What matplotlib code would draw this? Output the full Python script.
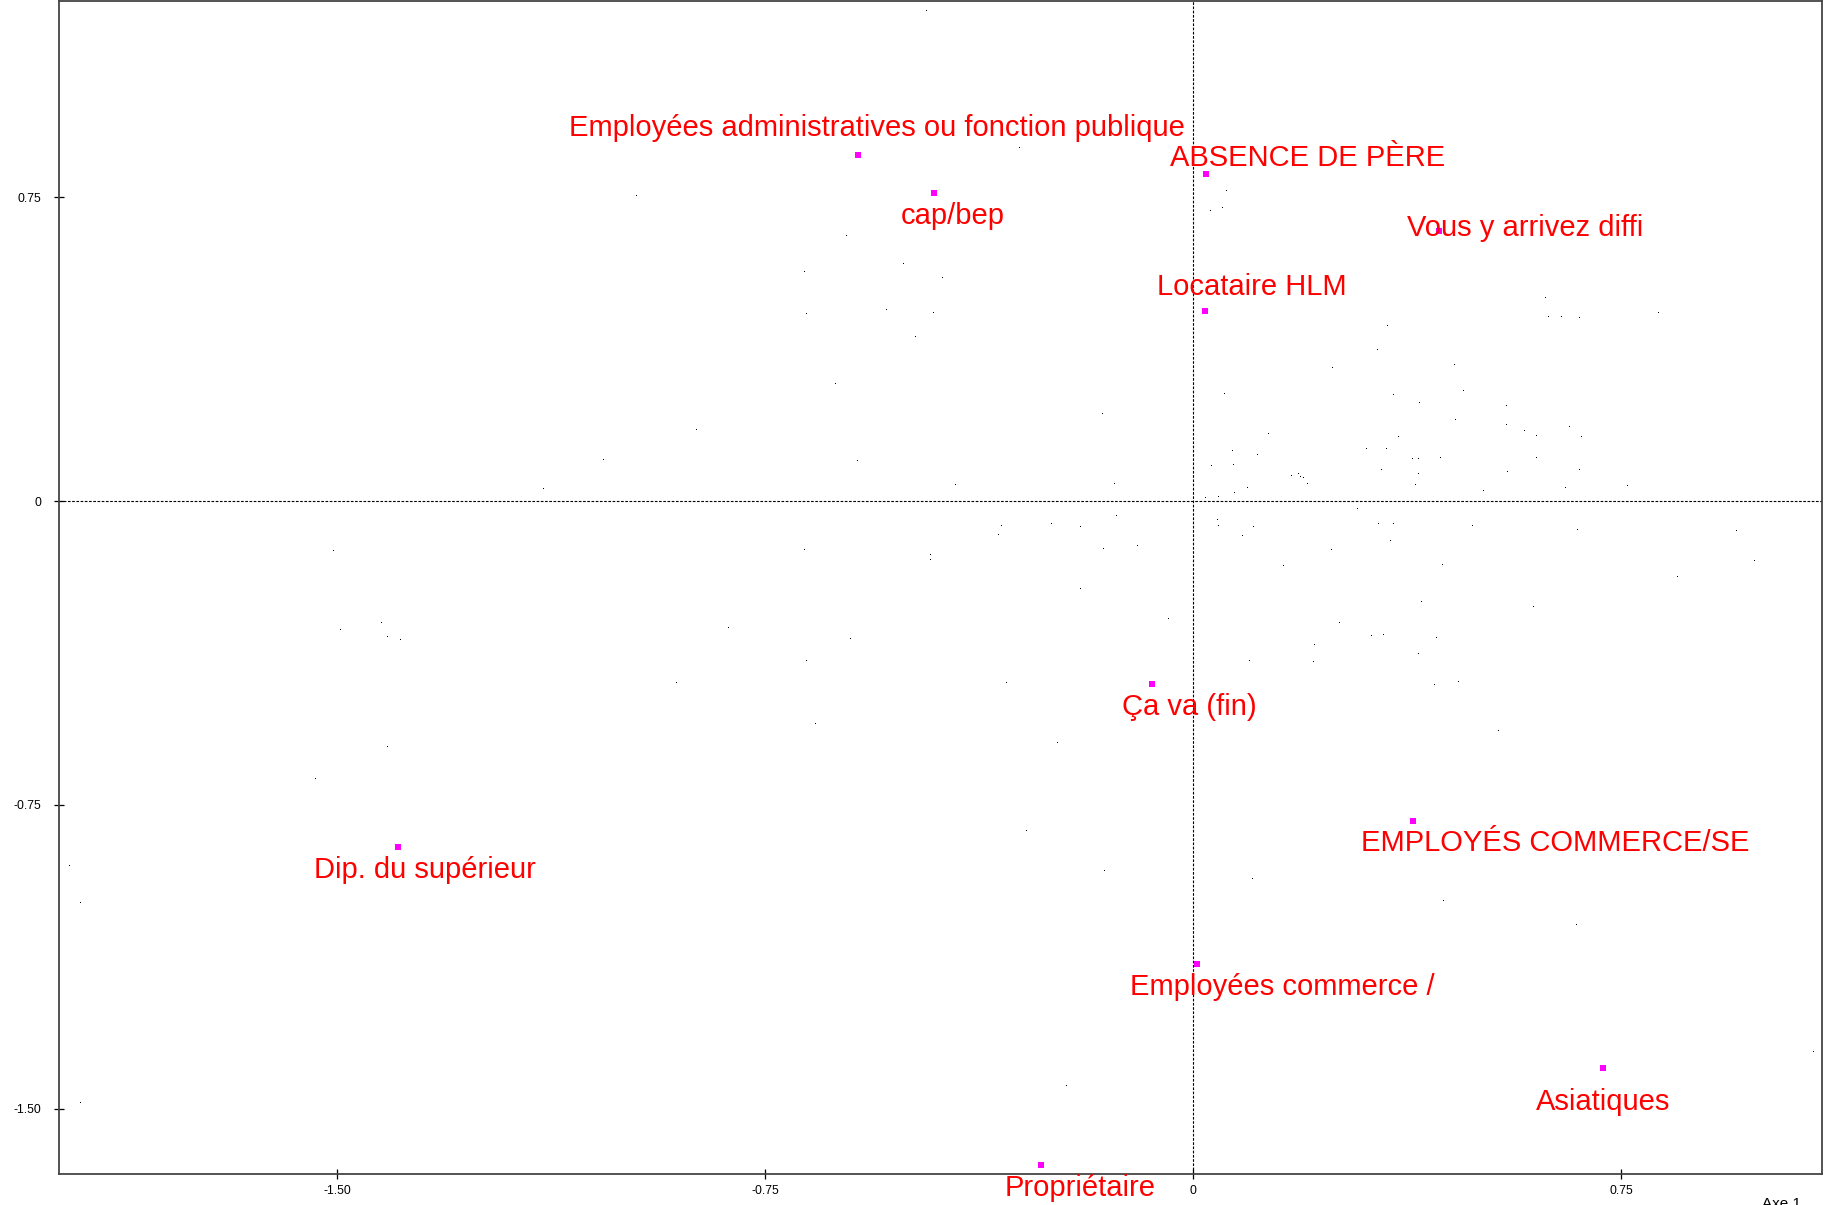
import matplotlib
matplotlib.use("Agg")
import matplotlib.pyplot as plt

plt.rcParams['font.family'] = ['Liberation Sans', 'DejaVu Sans']

# ---- data ----
cat_labels = ["Employées administratives ou fonction publique", "cap/bep",
              "ABSENCE DE PÈRE", "Locataire HLM", "Vous y arrivez diffi",
              "Ça va (fin)", "EMPLOYÉS COMMERCE/SE", "Employées commerce /",
              "Asiatiques", "Propriétaire", "Dip. du supérieur"]
cat_x = [-0.587, -0.454, 0.022, 0.021, 0.431, -0.072, 0.385, 0.007, 0.717, -0.267, -1.393]
cat_y = [0.855, 0.760, 0.808, 0.470, 0.666, -0.451, -0.790, -1.143, -1.399, -1.639, -0.854]

dots_x = [-0.976, -1.034, -1.139, -1.507,
          -0.469, -0.305, 0.058, 0.030, 0.051, -0.608, -0.508, -0.682, -0.440, -0.678,
          -0.538, -0.456, -0.487, -0.628, 0.053, -0.160, -0.872, -0.589, -0.417, -0.139,
          0.068, 0.031, 0.070, 0.072, 0.044, 0.021, -0.135, -0.337, -0.343, -0.249,
          -0.198, 0.042, 0.044, 0.086, -0.158, -0.098, -0.682, -0.461, -0.461, -0.198,
          0.617, 0.622, 0.645, 0.675, 0.815, 0.339, 0.322, 0.243, 0.456, 0.350,
          0.472, 0.395, 0.547, 0.459, 0.547, 0.579, 0.601, 0.659, 0.680, 0.131,
          0.358, 0.112, 0.303, 0.337, 0.383, 0.393, 0.433, 0.601, 0.329, 0.393,
          0.550, 0.675, 0.172, 0.184, 0.187, 0.193, 0.200, 0.094, 0.389, 0.508,
          0.652, 0.759, 0.287, 0.105, 0.324, 0.349, 0.489, 0.673, 0.950, 0.345,
          0.241, 0.157, 0.436, 0.982, 0.847, 0.399,
          -1.423, -1.495, -1.413, -1.390, -1.413, -1.539, -1.970, -1.950, -1.950,
          -0.045, -0.816, -0.601, -0.678, -0.907, -0.329, -0.663, -0.239, -0.293, -0.156, -0.223,
          0.596, 0.256, 0.312, 0.333, 0.426, 0.212, 0.098, 0.209, 0.393, 0.422,
          0.464, 0.533, 0.103, 0.438, 0.671, 0.717, 1.086]
dots_y = [0.753, 0.101, 0.030, -0.123,
          1.210, 0.873, 0.766, 0.716, 0.723, 0.655, 0.585, 0.565, 0.552, 0.462,
          0.473, 0.464, 0.405, 0.289, 0.264, 0.215, 0.176, 0.100, 0.040, 0.043,
          0.124, 0.087, 0.089, 0.019, 0.011, 0.008, -0.036, -0.061, -0.083, -0.057,
          -0.065, -0.046, -0.061, -0.087, -0.118, -0.111, -0.120, -0.134, -0.146, -0.217,
          0.502, 0.455, 0.455, 0.452, 0.464, 0.433, 0.373, 0.329, 0.337, 0.262,
          0.272, 0.242, 0.235, 0.200, 0.188, 0.174, 0.160, 0.183, 0.159, 0.166,
          0.159, 0.114, 0.129, 0.129, 0.104, 0.104, 0.106, 0.106, 0.077, 0.067,
          0.073, 0.077, 0.062, 0.066, 0.060, 0.057, 0.043, 0.033, 0.040, 0.025,
          0.033, 0.038, -0.020, -0.063, -0.057, -0.057, -0.061, -0.071, -0.074, -0.099,
          -0.120, -0.161, -0.158, -0.148, -0.187, -0.250,
          -0.301, -0.318, -0.335, -0.343, -0.607, -0.687, -0.901, -0.991, -1.486,
          -0.290, -0.313, -0.341, -0.395, -0.449, -0.449, -0.550, -0.597, -0.814, -0.913, -1.444,
          -0.261, -0.301, -0.333, -0.330, -0.338, -0.355, -0.395, -0.397, -0.378, -0.453,
          -0.447, -0.568, -0.932, -0.987, -1.047, -1.400, -1.359]

x_ticks = [-1.50, -0.75, 0, 0.75]
x_tick_labels = ["-1.50", "-0.75", "0", "0.75"]
y_ticks = [0.75, 0, -0.75, -1.50]
y_tick_labels = ["0.75", "0", "-0.75", "-1.50"]
axis_label = "Axe 1"

# ---- layout (label offsets in pixels: center-x, baseline-y relative to marker) ----
label_offsets = [(19, 19), (19, -31), (102, 8), (46, 16), (86, -5), (37, -31),
                 (142, -30), (85, -31), (1, -42), (39, -31), (27, -31)]

W, H, DPI = 1826, 1205, 100
fig = plt.figure(figsize=(W / DPI, H / DPI), dpi=DPI)
ax = fig.add_axes([59.3 / W, 31 / H, (1821.7 - 59.3) / W, (1174 - 1.3) / H])
ax.set_xlim(-1.987, 1.101)
ax.set_ylim(-1.661, 1.234)

ax.axhline(0, color='black', lw=0.8, dashes=(2.4, 1.4), zorder=1)
ax.axvline(0, color='black', lw=0.8, dashes=(2.4, 1.4), zorder=1)

ax.plot(dots_x, dots_y, linestyle='none', marker=',', color='black', zorder=2)
ax.plot(cat_x, cat_y, linestyle='none', marker='s', markersize=5,
        color='#FF00FF', markeredgewidth=0, zorder=3)

for lab, x, y, (dx, dy) in zip(cat_labels, cat_x, cat_y, label_offsets):
    ax.annotate(lab, (x, y), xytext=(dx, dy), textcoords='offset pixels',
                ha='center', va='baseline', color='#FF0000', fontsize=21,
                annotation_clip=False, clip_on=False, zorder=4)

ax.set_xticks(x_ticks)
ax.set_xticklabels(x_tick_labels)
ax.set_yticks(y_ticks)
ax.set_yticklabels(y_tick_labels)
ax.tick_params(direction='inout', length=6.5, width=0.9, labelsize=8.8,
               color='black', labelcolor='black')
ax.tick_params(axis='x', pad=4.5)
ax.tick_params(axis='y', pad=9.5)

for sp in ax.spines.values():
    sp.set_color('#444444')
    sp.set_linewidth(1.3)

fig.text(1762 / W, 1 - 1197 / H, axis_label, ha='left', va='top', fontsize=11,
         color='black')

fig.savefig('out.png', dpi=DPI)
